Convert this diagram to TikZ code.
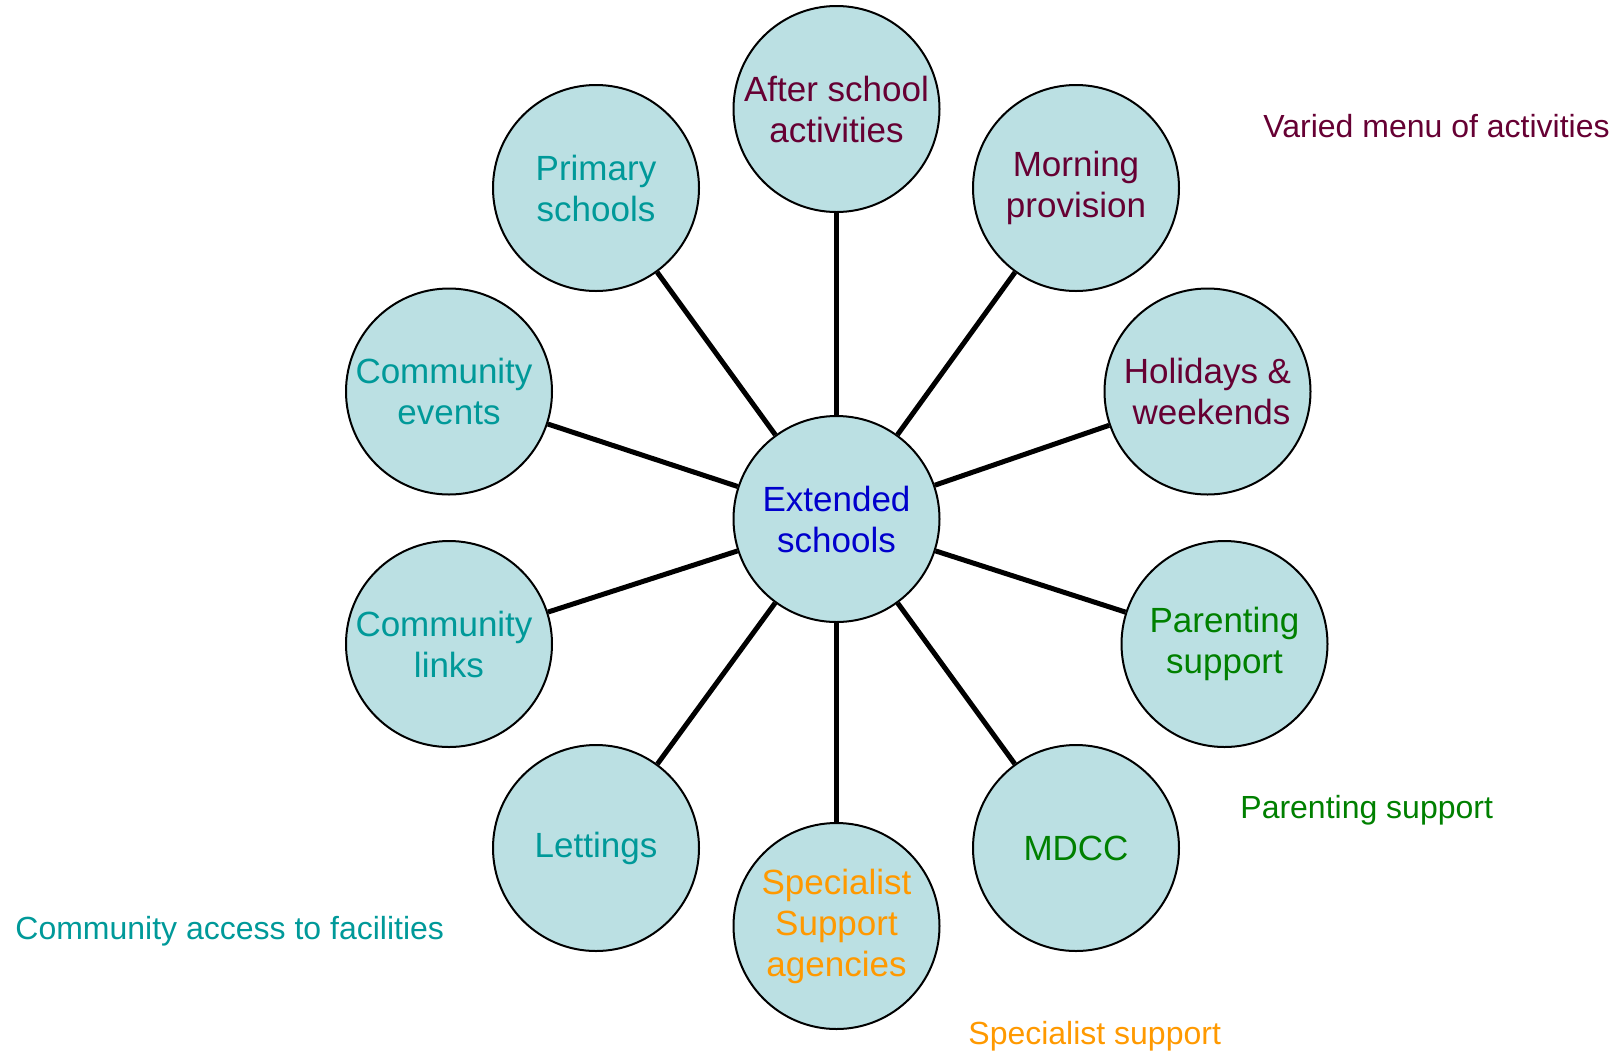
\documentclass[tikz,border=0pt]{standalone}
\usepackage{fontspec}
\setmainfont{Liberation Sans}
\definecolor{bubblefill}{HTML}{BBE0E3}
\definecolor{maroon}{HTML}{660033}
\definecolor{teal}{HTML}{009999}
\definecolor{leaf}{HTML}{008000}
\definecolor{amber}{HTML}{FF9900}
\definecolor{hubblue}{HTML}{0000CC}
\tikzset{
  bubble/.style={circle, draw=black, line width=1pt, fill=bubblefill, minimum size=103pt,
    inner sep=0pt, align=center, font=\fontsize{17.5}{20.5}\selectfont},
  spoke/.style={line width=2.5pt},
  note/.style={anchor=base west, inner sep=0pt, font=\fontsize{16}{19}\selectfont}
}
\begin{document}
\begin{tikzpicture}[x=0.5pt, y=-0.5pt]
  \useasboundingbox (0,0) rectangle (1618,1051);
  \node[bubble, text=hubblue] (hub) at (836.5,519) {Extended\\schools};
  \node[bubble, text=maroon] (after) at (836.5,109) {After school\\activities};
  \node[bubble, text=maroon] (morning) at (1076,188) {Morning\\provision};
  \node[bubble, text=maroon] (holidays) at (1207.5,391.5) {Holidays \&\\\hspace*{4pt}weekends};
  \node[bubble, text=leaf] (parenting) at (1224.5,644) {Parenting\\support};
  \node[bubble, text=leaf] (mdcc) at (1076,848) {MDCC};
  \node[bubble, text=amber] (specialist) at (836.5,926) {Specialist\\Support\\agencies};
  \node[bubble, text=teal] (lettings) at (596,848) {Lettings};
  \node[bubble, text=teal] (links) at (449,644) {Community\hspace*{5pt}\\links};
  \node[bubble, text=teal] (events) at (449,391.5) {Community\hspace*{5pt}\\events};
  \node[bubble, text=teal] (primary) at (596,188) {Primary\\schools};
  \foreach \n in {after,morning,holidays,parenting,mdcc,specialist,lettings,links,events,primary}
    \draw[spoke] (hub) -- (\n);
  \node[note, text=maroon] (variedlbl) at (1263,137) {Varied menu of activities};
  \node[note, text=leaf] (parentlbl) at (1240,818) {Parenting support};
  \node[note, text=teal] (accesslbl) at (15,939) {Community access to facilities};
  \node[note, text=amber] (speclbl) at (968,1044) {Specialist support};
\end{tikzpicture}
\end{document}
